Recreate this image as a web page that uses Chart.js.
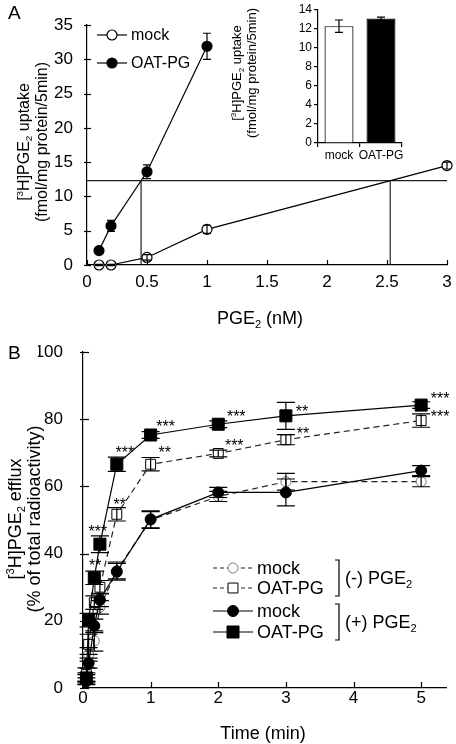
<!DOCTYPE html>
<html><head><meta charset="utf-8">
<script src="https://cdn.jsdelivr.net/npm/chart.js@4"></script>
<style>
html,body{margin:0;padding:0;background:#fff;}
#wrap{position:relative;width:456px;height:744px;overflow:hidden;background:#fff;}
canvas{position:absolute;left:0;top:0;}
</style></head><body>
<div id="wrap">
<canvas id="cA" width="456" height="744"></canvas>
<canvas id="cI" width="456" height="744"></canvas>
<canvas id="cB" width="456" height="744"></canvas>
</div>
<script>
// ===== Panel A data =====
const concMock = [0.1, 0.2, 0.5, 1, 3];
const mockA = [0, 0, 1.1, 5.2, 14.5];
const mockAErr = [0.1, 0.1, 0.4, 0.6, 0.5];
const concOat = [0.1, 0.2, 0.5, 1];
const oatA = [2.1, 5.7, 13.6, 31.9];
const oatAErr = [0.4, 0.8, 1.0, 1.9];
const levelA = 12.3;
const ticksAX = [0, 0.5, 1, 1.5, 2, 2.5, 3];
const ticksAY = [0, 5, 10, 15, 20, 25, 30, 35];
// ===== Inset data =====
const insetCats = ['mock', 'OAT-PG'];
const insetVals = [12.3, 13.1];
const insetErr = [0.65, 0.15];
const ticksIY = [0, 2, 4, 6, 8, 10, 12, 14];
// ===== Panel B data =====
const timeB = [0.05, 0.083, 0.167, 0.25, 0.5, 1, 2, 3, 5];
const mockMinus = [3, 10, 14, 24, 35, 50, 57, 61.4, 61.4];
const mockMinusErr = [1, 2, 3, 2, 2.5, 2.5, 1.5, 2.5, 1.5];
const oatMinus = [4, 13, 25.4, 30, 51.7, 66.6, 69.8, 73.9, 79.6];
const oatMinusErr = [2, 3, 2, 2, 2, 2, 1, 1.5, 2];
const mockPlus = [2, 7.4, 18.5, 26.2, 34.6, 50.2, 58.2, 58.2, 64.7];
const mockPlusErr = [1, 1.5, 2, 2, 2.5, 2.5, 1.5, 4, 1.5];
const oatPlus = [3, 20.2, 32.8, 42.8, 66.6, 75.3, 78.5, 81.0, 84.2];
const oatPlusErr = [1.5, 2, 2, 2.5, 2.1, 1, 1, 4, 1];
const ticksBX = [0, 1, 2, 3, 4, 5];
const ticksBY = [0, 20, 40, 60, 80, 100];
// significance marks: series, point index, text
const starSeries = ['oatPlus','oatPlus','oatPlus','oatMinus','oatPlus','oatMinus','oatPlus','oatMinus','oatPlus','oatMinus','oatPlus','oatMinus'];
const starIndex  = [2, 3, 4, 4, 5, 5, 6, 6, 7, 7, 8, 8];
const starText   = ['**','***','***','**','***','**','***','***','**','**','***','***'];

// ===== styling / helpers =====
const FONT = '"Liberation Sans", Arial, Helvetica, sans-serif';
const starOffX = [1, -2, 8, 3, 15, 14, 18, 16, 16, 17, 19, 19];
const starOffY = [-16, -16, -15, -13, -12, -15, -11, -12, -8, -10, -10, -8];
Chart.defaults.font.family = FONT;
Chart.defaults.color = '#000';

function pts(xs, ys){ return xs.map((x,i)=>({x:x, y:ys[i]})); }
function richParts(str){
  const parts=[]; let buf=''; let i=0;
  while(i<str.length){
    const c=str[i];
    if((c==='^'||c==='_') && i+1<str.length){
      if(buf){parts.push({t:buf,k:0}); buf='';}
      parts.push({t:str[i+1], k: c==='^'?1:-1}); i+=2;
    } else { buf+=c; i++; }
  }
  if(buf) parts.push({t:buf,k:0});
  return parts;
}
function drawRich(ctx, str, x, y, size, align){
  const parts=richParts(str); let w=0;
  parts.forEach(p=>{ p.s = p.k? size*0.62 : size; ctx.font = p.s+'px '+FONT; p.w=ctx.measureText(p.t).width; w+=p.w; });
  let cx = align==='left'? x : (align==='right'? x-w : x-w/2);
  ctx.textAlign='left'; ctx.textBaseline='alphabetic';
  parts.forEach(p=>{ ctx.font=p.s+'px '+FONT; const dy = p.k===1? -size*0.38 : (p.k===-1? size*0.2:0); ctx.fillText(p.t, cx, y+dy); cx+=p.w; });
}
function drawRichRot(ctx, str, x, y, size){
  ctx.save(); ctx.translate(x,y); ctx.rotate(-Math.PI/2); drawRich(ctx,str,0,0,size,'center'); ctx.restore();
}
function tickPlugin(cfg){
  return { id:'tickMarks', afterDraw(chart){
    const ctx=chart.ctx, ca=chart.chartArea, xs=chart.scales.x, ys=chart.scales.y;
    ctx.save(); ctx.strokeStyle='#000'; ctx.lineWidth=1.2;
    xs.ticks.forEach(t=>{ const p=Math.round(xs.getPixelForValue(t.value))+0.5; ctx.beginPath(); ctx.moveTo(p, ca.bottom+cfg.xOut); ctx.lineTo(p, ca.bottom-cfg.xIn); ctx.stroke(); });
    ys.ticks.forEach(t=>{ const p=Math.round(ys.getPixelForValue(t.value))+0.5; ctx.beginPath(); ctx.moveTo(ca.left-cfg.yOut, p); ctx.lineTo(ca.left+cfg.yIn, p); ctx.stroke(); });
    ctx.restore();
  }};
}
function errPlugin(cap){
  return { id:'errBars', afterDatasetsDraw(chart){
    const ctx=chart.ctx, ys=chart.scales.y;
    ctx.save(); ctx.strokeStyle='#000'; ctx.lineWidth=1.2;
    chart.data.datasets.forEach((ds,di)=>{
      if(!ds.errs) return;
      const meta=chart.getDatasetMeta(di);
      meta.data.forEach((el,i)=>{
        const v = (typeof ds.data[i]==='object')? ds.data[i].y : ds.data[i];
        const e = ds.errs[i]; const x=el.x;
        const y1=ys.getPixelForValue(v+e), y2=ys.getPixelForValue(v-e);
        ctx.beginPath();
        ctx.moveTo(x,y1); ctx.lineTo(x,y2);
        ctx.moveTo(x-cap/2,y1); ctx.lineTo(x+cap/2,y1);
        ctx.moveTo(x-cap/2,y2); ctx.lineTo(x+cap/2,y2);
        ctx.stroke();
      });
    });
    ctx.restore();
  }};
}
function crossX(xs, ys, level){
  for(let i=0;i<xs.length-1;i++){
    if((ys[i]-level)*(ys[i+1]-level)<=0 && ys[i]!==ys[i+1])
      return xs[i]+(level-ys[i])*(xs[i+1]-xs[i])/(ys[i+1]-ys[i]);
  }
  return null;
}
function drawMarker(ctx, ds, x, y){
  ctx.save();
  ctx.fillStyle = ds.pointBackgroundColor; ctx.strokeStyle = ds.pointBorderColor; ctx.lineWidth = ds.pointBorderWidth;
  Chart.helpers.drawPoint(ctx, {pointStyle: ds.pointStyle, rotation:0, radius: ds.pointRadius, borderWidth: ds.pointBorderWidth}, x, y);
  ctx.restore();
}
function legendRow(ctx, ds, x1, x2, y, text, size){
  ctx.save();
  ctx.strokeStyle = ds.borderColor; ctx.lineWidth = ds.borderWidth; ctx.setLineDash(ds.legendDash || []);
  ctx.beginPath(); ctx.moveTo(x1,y); ctx.lineTo(x2,y); ctx.stroke();
  ctx.setLineDash([]);
  drawMarker(ctx, ds, (x1+x2)/2, y);
  ctx.fillStyle='#000'; ctx.font = size+'px '+FONT; ctx.textAlign='left'; ctx.textBaseline='middle';
  ctx.fillText(text, x2+4, y+1);
  ctx.restore();
}
const fmtTick = v => String(v);

// ===== Panel A chart =====
const dsMockA = { label:'mock', data: pts(concMock, mockA), errs: mockAErr, showLine:true,
  borderColor:'#000', borderWidth:1.2, pointStyle:'circle', pointRadius:5,
  pointBackgroundColor:'#fff', pointBorderColor:'#000', pointBorderWidth:1.2, clip:false };
const dsOatA = { label:'OAT-PG', data: pts(concOat, oatA), errs: oatAErr, showLine:true,
  borderColor:'#000', borderWidth:1.2, pointStyle:'circle', pointRadius:5,
  pointBackgroundColor:'#000', pointBorderColor:'#000', pointBorderWidth:1.2, clip:false };

const refPlugin = { id:'refLines', beforeDatasetsDraw(chart){
  const ctx=chart.ctx, xs=chart.scales.x, ys=chart.scales.y;
  const yl = ys.getPixelForValue(levelA), y0 = ys.getPixelForValue(0);
  ctx.save(); ctx.strokeStyle='#222'; ctx.lineWidth=1.2;
  ctx.beginPath(); ctx.moveTo(xs.getPixelForValue(xs.min), yl); ctx.lineTo(xs.getPixelForValue(xs.max), yl); ctx.stroke();
  [crossX(concOat, oatA, levelA), crossX(concMock, mockA, levelA)].forEach(cx=>{
    if(cx===null) return; const px = xs.getPixelForValue(cx);
    ctx.beginPath(); ctx.moveTo(px, yl); ctx.lineTo(px, y0); ctx.stroke();
  });
  ctx.restore();
}};
const decoA = { id:'decoA', afterDraw(chart){
  const ctx=chart.ctx; ctx.save(); ctx.fillStyle='#000';
  ctx.font='19px '+FONT; ctx.textAlign='left'; ctx.textBaseline='alphabetic'; ctx.fillText('A', 8, 19);
  drawRichRot(ctx, '[^3H]PGE_2 uptake', 29, 142, 16);
  drawRichRot(ctx, '(fmol/mg protein/5min)', 47, 142, 16);
  drawRich(ctx, 'PGE_2 (nM)', 260, 324, 18, 'center');
  legendRow(ctx, dsMockA, 97, 127, 35, 'mock', 16);
  legendRow(ctx, dsOatA, 97, 127, 63, 'OAT-PG', 16);
  ctx.restore();
}};
new Chart(document.getElementById('cA'), {
  type:'scatter',
  data:{ datasets:[dsOatA, dsMockA] },
  options:{ responsive:false, animation:false, devicePixelRatio:1,
    layout:{ padding:{ left:47, top:25, right:9, bottom:449 } },
    plugins:{ legend:{display:false}, tooltip:{enabled:false} },
    scales:{
      x:{ type:'linear', min:0, max:3, grid:{display:false}, border:{display:true,color:'#000',width:1.2},
          afterBuildTicks: s=>{ s.ticks = ticksAX.map(v=>({value:v})); },
          afterFit: s=>{ s.height = 30; },
          ticks:{ font:{size:17}, color:'#000', padding:-1, maxRotation:0, autoSkip:false, callback: fmtTick } },
      y:{ type:'linear', min:0, max:35, grid:{display:false}, border:{display:true,color:'#000',width:1.2},
          afterBuildTicks: s=>{ s.ticks = ticksAY.map(v=>({value:v})); },
          afterFit: s=>{ s.width = 40; },
          ticks:{ font:{size:17}, color:'#000', padding:6, callback: fmtTick } }
    }
  },
  plugins:[refPlugin, errPlugin(8), tickPlugin({xIn:5, xOut:0, yIn:4, yOut:3}), decoA]
});

// ===== Inset chart =====
const decoI = { id:'decoI', afterDraw(chart){
  const ctx=chart.ctx; ctx.save(); ctx.fillStyle='#000';
  drawRichRot(ctx, '[^3H]PGE_2 uptake', 241, 73, 13);
  drawRichRot(ctx, '(fmol/mg protein/5min)', 256, 73, 13);
  ctx.restore();
}};
new Chart(document.getElementById('cI'), {
  type:'bar',
  data:{ labels: insetCats, datasets:[{ data: insetVals, errs: insetErr,
    backgroundColor:['#fff','#000'], borderColor:'#000', borderWidth:1.2,
    barPercentage:0.69, categoryPercentage:1 }] },
  options:{ responsive:false, animation:false, devicePixelRatio:1,
    layout:{ padding:{ left:288, top:10, right:54, bottom:581 } },
    plugins:{ legend:{display:false}, tooltip:{enabled:false} },
    scales:{
      x:{ grid:{display:true, drawOnChartArea:false, drawTicks:true, tickLength:4, color:'#000', lineWidth:1.2},
          border:{display:true,color:'#000',width:1.2},
          afterFit: s=>{ s.height = 20; },
          ticks:{ font:{size:12}, color:'#000', padding:1, maxRotation:0, minRotation:0, autoSkip:false } },
      y:{ min:0, max:14, grid:{display:true, drawOnChartArea:false, drawTicks:true, tickLength:4, color:'#000', lineWidth:1.2},
          border:{display:true,color:'#000',width:1.2},
          afterBuildTicks: s=>{ s.ticks = ticksIY.map(v=>({value:v})); },
          afterFit: s=>{ s.width = 30; },
          ticks:{ font:{size:12}, color:'#000', padding:2 } }
    }
  },
  plugins:[errPlugin(8), decoI]
});

// ===== Panel B chart =====
const dsMockMinus = { label:'mock', data: pts(timeB, mockMinus), errs: mockMinusErr, showLine:true,
  borderColor:'#222', borderWidth:1.2, borderDash:[6,4], legendDash:[4,3], pointStyle:'circle', pointRadius:5,
  pointBackgroundColor:'#fff', pointBorderColor:'#777', pointBorderWidth:1, clip:false };
const dsOatMinus = { label:'OAT-PG', data: pts(timeB, oatMinus), errs: oatMinusErr, showLine:true,
  borderColor:'#222', borderWidth:1.2, borderDash:[6,4], legendDash:[4,3], pointStyle:'rect', pointRadius:7,
  pointBackgroundColor:'#fff', pointBorderColor:'#000', pointBorderWidth:1, clip:false };
const dsMockPlus = { label:'mock', data: pts(timeB, mockPlus), errs: mockPlusErr, showLine:true,
  borderColor:'#000', borderWidth:1.2, pointStyle:'circle', pointRadius:5.5,
  pointBackgroundColor:'#000', pointBorderColor:'#000', pointBorderWidth:1, clip:false };
const dsOatPlus = { label:'OAT-PG', data: pts(timeB, oatPlus), errs: oatPlusErr, showLine:true,
  borderColor:'#000', borderWidth:1.2, pointStyle:'rect', pointRadius:8.5,
  pointBackgroundColor:'#000', pointBorderColor:'#000', pointBorderWidth:1, clip:false };
const seriesB = { mockMinus: dsMockMinus, oatMinus: dsOatMinus, mockPlus: dsMockPlus, oatPlus: dsOatPlus };

const decoB = { id:'decoB', afterDraw(chart){
  const ctx=chart.ctx, xs=chart.scales.x, ys=chart.scales.y;
  ctx.save(); ctx.fillStyle='#000';
  ctx.font='19px '+FONT; ctx.textAlign='left'; ctx.textBaseline='alphabetic'; ctx.fillText('B', 8, 359);
  drawRichRot(ctx, '[^3H]PGE_2 efflux', 21, 519, 18);
  drawRichRot(ctx, '(% of total radioactivity)', 40, 519, 18);
  drawRich(ctx, 'Time (min)', 263, 739, 18, 'center');
  const ss=16; ctx.font = ss+'px '+FONT; ctx.textAlign='center'; ctx.textBaseline='alphabetic';
  starText.forEach((t,i)=>{
    const ds = seriesB[starSeries[i]]; const k = starIndex[i];
    const px = xs.getPixelForValue(ds.data[k].x) + starOffX[i];
    const py = ys.getPixelForValue(ds.data[k].y) + starOffY[i];
    ctx.fillText(t, px, py + 0.57*ss);
  });
  legendRow(ctx, dsMockMinus, 213, 253, 568, 'mock', 18);
  legendRow(ctx, dsOatMinus, 213, 253, 588, 'OAT-PG', 18);
  legendRow(ctx, dsMockPlus, 213, 253, 611, 'mock', 18);
  legendRow(ctx, dsOatPlus, 213, 253, 632, 'OAT-PG', 18);
  ctx.strokeStyle='#000'; ctx.lineWidth=1.2;
  [[560,596],[604,640]].forEach(b=>{
    ctx.beginPath(); ctx.moveTo(335,b[0]); ctx.lineTo(339,b[0]); ctx.lineTo(339,b[1]); ctx.lineTo(335,b[1]); ctx.stroke();
  });
  ctx.fillStyle='#000';
  drawRich(ctx, '(-) PGE_2', 345, 584, 18, 'left');
  drawRich(ctx, '(+) PGE_2', 345, 628, 18, 'left');
  ctx.restore();
}};
new Chart(document.getElementById('cB'), {
  type:'scatter',
  data:{ datasets:[dsOatPlus, dsMockPlus, dsOatMinus, dsMockMinus] },
  options:{ responsive:false, animation:false, devicePixelRatio:1,
    layout:{ padding:{ left:38, top:352, right:4, bottom:11 } },
    plugins:{ legend:{display:false}, tooltip:{enabled:false} },
    scales:{
      x:{ type:'linear', min:0, max:5.375, grid:{display:false}, border:{display:true,color:'#000',width:1.2},
          afterBuildTicks: s=>{ s.ticks = ticksBX.map(v=>({value:v})); },
          afterFit: s=>{ s.height = 45; },
          ticks:{ font:{size:17}, color:'#000', padding:-8, maxRotation:0, autoSkip:false, includeBounds:false, callback: fmtTick } },
      y:{ type:'linear', min:0, max:100, grid:{display:false}, border:{display:true,color:'#000',width:1.2},
          afterBuildTicks: s=>{ s.ticks = ticksBY.map(v=>({value:v})); },
          afterFit: s=>{ s.width = 45; },
          ticks:{ font:{size:17}, color:'#000', padding:12, callback: fmtTick } }
    }
  },
  plugins:[errPlugin(18), tickPlugin({xIn:6, xOut:0, yIn:6, yOut:3}), decoB]
});
</script>
</body></html>
